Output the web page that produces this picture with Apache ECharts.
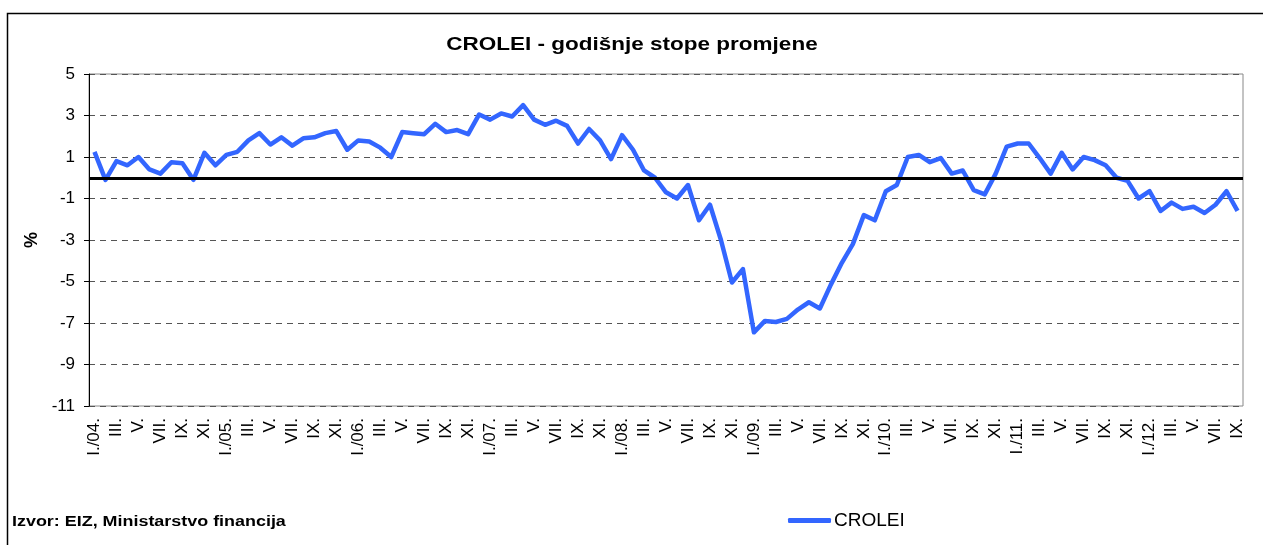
<!DOCTYPE html>
<html>
<head>
<meta charset="utf-8">
<script src="https://cdn.jsdelivr.net/npm/echarts@6/dist/echarts.min.js"></script>
<style>
  html, body { margin: 0; padding: 0; background: #fff; }
  #chart { width: 1263px; height: 545px; }
</style>
</head>
<body>
<div id="chart"></div>
<script>
// mjeseci I./04 - IX./12
const months = ['I.', 'II.', 'III.', 'IV.', 'V.', 'VI.', 'VII.', 'VIII.', 'IX.', 'X.', 'XI.', 'XII.']
const years = ['04', '05', '06', '07', '08', '09', '10', '11', '12']
const categories = []
years.forEach(y => {
  months.forEach((m, i) => {
    if (y === '12' && i > 8) return
    categories.push(i === 0 ? 'I./' + y + '.' : m)
  })
})

// godišnje stope promjene, %
const crolei = [
  1.25, -0.1, 0.8, 0.6, 1.0, 0.4, 0.2, 0.75, 0.7, -0.1, 1.2, 0.6,
  1.1, 1.25, 1.8, 2.15, 1.6, 1.95, 1.55, 1.9, 1.95, 2.15, 2.25, 1.35,
  1.8, 1.75, 1.45, 1.0, 2.2, 2.15, 2.1, 2.6, 2.2, 2.3, 2.1, 3.05,
  2.8, 3.1, 2.95, 3.5, 2.8, 2.55, 2.75, 2.5, 1.65, 2.35, 1.8, 0.9,
  2.05, 1.35, 0.35, 0.0, -0.7, -1.0, -0.35, -2.05, -1.3, -3.0, -5.05, -4.4,
  -7.45, -6.9, -6.95, -6.8, -6.35, -6.0, -6.3, -5.15, -4.1, -3.2, -1.8, -2.05,
  -0.65, -0.35, 1.0, 1.1, 0.75, 0.95, 0.2, 0.35, -0.6, -0.8, 0.2, 1.5,
  1.65, 1.65, 0.95, 0.2, 1.2, 0.4, 1.0, 0.85, 0.6, 0.0, -0.15, -1.0,
  -0.65, -1.6, -1.2, -1.5, -1.4, -1.7, -1.3, -0.65, -1.6
]

const yTicks = { min: -11, max: 5, step: 2 }

const chart = echarts.init(document.getElementById('chart'))
const font = '"Liberation Sans", Arial, sans-serif'

chart.setOption({
  animation: false,
  textStyle: { fontFamily: font },
  legend: {
    data: ['CROLEI'],
    left: 783,
    top: 506,
    icon: 'roundRect',
    itemWidth: 43,
    itemHeight: 5,
    itemGap: 4,
    textStyle: { fontFamily: font, fontSize: 19, color: '#000', padding: [0, 0, 0, -2] }
  },
  graphic: [
    {
      type: 'rect',
      shape: { x: 7.5, y: 13.5, width: 1270, height: 560 },
      style: { fill: 'none', stroke: '#000', lineWidth: 1.5 },
      silent: true
    },
    {
      // naslov, malo razvučen kao u Excelu
      type: 'text',
      x: 632,
      y: 45,
      scaleX: 1.25,
      style: {
        text: 'CROLEI - godišnje stope promjene',
        font: 'bold 18px ' + font,
        fill: '#000',
        textAlign: 'center',
        textVerticalAlign: 'middle'
      }
    },
    {
      type: 'text',
      x: 12,
      y: 522,
      scaleX: 1.28,
      style: {
        text: 'Izvor: EIZ, Ministarstvo financija',
        font: 'bold 14px ' + font,
        fill: '#000',
        textAlign: 'left',
        textVerticalAlign: 'middle'
      }
    }
  ],
  grid: {
    left: 89,
    right: 20,
    top: 74,
    bottom: 139,
    show: true,
    borderColor: '#888',
    borderWidth: 1
  },
  xAxis: {
    type: 'category',
    data: categories,
    boundaryGap: true,
    axisLine: { show: false },
    axisTick: { show: false },
    axisLabel: {
      interval: 1,
      rotate: 90,
      fontSize: 17,
      color: '#000',
      margin: 12
    },
    splitLine: { show: false }
  },
  yAxis: {
    type: 'value',
    min: yTicks.min,
    max: yTicks.max,
    interval: yTicks.step,
    name: '%',
    nameLocation: 'middle',
    nameRotate: 90,
    nameGap: 44,
    nameTextStyle: { fontFamily: font, fontSize: 18, fontWeight: 'bold', color: '#000' },
    axisLine: { show: true, lineStyle: { color: '#000', width: 1 } },
    axisTick: { show: true, inside: false, length: 5, lineStyle: { color: '#000' } },
    axisLabel: { fontSize: 17, color: '#000', margin: 14 },
    splitLine: { show: true, lineStyle: { color: '#555', type: [6, 5], width: 1 } }
  },
  series: [{
    name: 'CROLEI',
    type: 'line',
    data: crolei,
    showSymbol: false,
    symbol: 'none',
    lineStyle: { color: '#3366ff', width: 4.5, join: 'round' },
    itemStyle: { color: '#3366ff' },
    markLine: {
      silent: true,
      symbol: 'none',
      label: { show: false },
      lineStyle: { color: '#000', width: 3, type: 'solid' },
      data: [{ yAxis: 0 }]
    },
    z: 3
  }]
})
</script>
</body>
</html>
